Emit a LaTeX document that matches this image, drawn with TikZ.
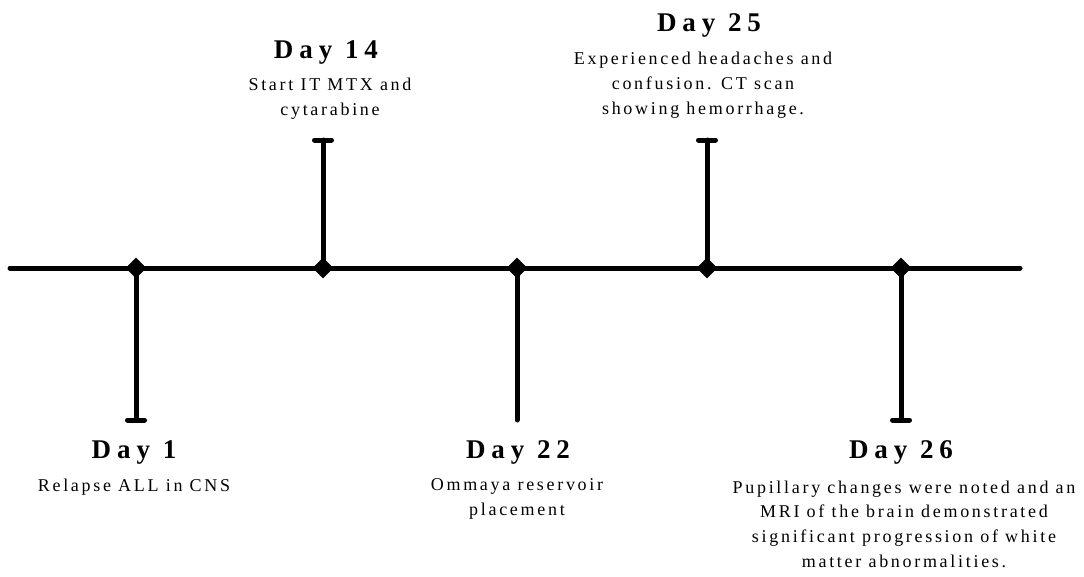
\documentclass[tikz,border=0pt]{standalone}
\usepackage{fontspec}
\setmainfont{Liberation Serif}
\newfontfamily\headfont[LetterSpace=22]{Liberation Serif}
\newfontfamily\bodyfont[LetterSpace=15]{Liberation Serif}
\usetikzlibrary{shapes.geometric}
\tikzset{
  axis/.style={line width=5pt, line cap=round},
  stem/.style={line width=5pt, line cap=round},
  capbar/.style={line width=5pt, line cap=round},
  tick/.style={diamond, fill=black, inner sep=0pt, minimum width=21pt, minimum height=21pt},
  heading/.style={font=\headfont\bfseries\fontsize{27}{30}\selectfont, anchor=base, inner sep=0pt},
  body/.style={font=\bodyfont\fontsize{18}{24.6}\selectfont, align=center, anchor=base, inner sep=0pt}
}
\begin{document}
\begin{tikzpicture}[x=1pt,y=-1pt]
\useasboundingbox (0,0) rectangle (1084,576);
\coordinate (L) at (10,268);
\coordinate (R) at (1020,268);
\draw[axis] (L) -- (R);
\node[tick] (t1) at (136,268) {};
\node[tick] (t2) at (323,268) {};
\node[tick] (t3) at (517,268) {};
\node[tick] (t4) at (707,268) {};
\node[tick] (t5) at (901,268) {};
\coordinate (e1) at (136,420);
\coordinate (e2) at (323,140);
\coordinate (e3) at (517,420);
\coordinate (e4) at (707,140);
\coordinate (e5) at (901,420);
\draw[stem] (t1.center) -- (e1);
\draw[stem] (t2.center) -- (e2);
\draw[stem] (t3.center) -- (e3);
\draw[stem] (t4.center) -- (e4);
\draw[stem] (t5.center) -- (e5);
\draw[capbar] ([xshift=-8.5pt]e1) -- ([xshift=8.5pt]e1);
\draw[capbar] ([xshift=-8.5pt]e2) -- ([xshift=8.5pt]e2);
\draw[capbar] ([xshift=-8.5pt]e4) -- ([xshift=8.5pt]e4);
\draw[capbar] ([xshift=-8.5pt]e5) -- ([xshift=8.5pt]e5);
\node[heading] (h1) at (134,458) {Day 1};
\node[heading] (h2) at (326,58) {Day 14};
\node[heading] (h3) at (518,458) {Day 22};
\node[heading] (h4) at (709,31) {Day 25};
\node[heading] (h5) at (901,458) {Day 26};
\node[body] (b1) at (134,491) {Relapse ALL in CNS};
\node[body] (b2) at (330,115) {Start IT MTX and\\cytarabine};
\node[body] (b3) at (517,515) {Ommaya reservoir\\placement};
\node[body] (b4) at (703,114) {Experienced headaches and\\confusion. CT scan\\showing hemorrhage.};
\node[body] (b5) at (904,567) {Pupillary changes were noted and an\\MRI of the brain demonstrated\\significant progression of white\\matter abnormalities.};
\end{tikzpicture}
\end{document}
